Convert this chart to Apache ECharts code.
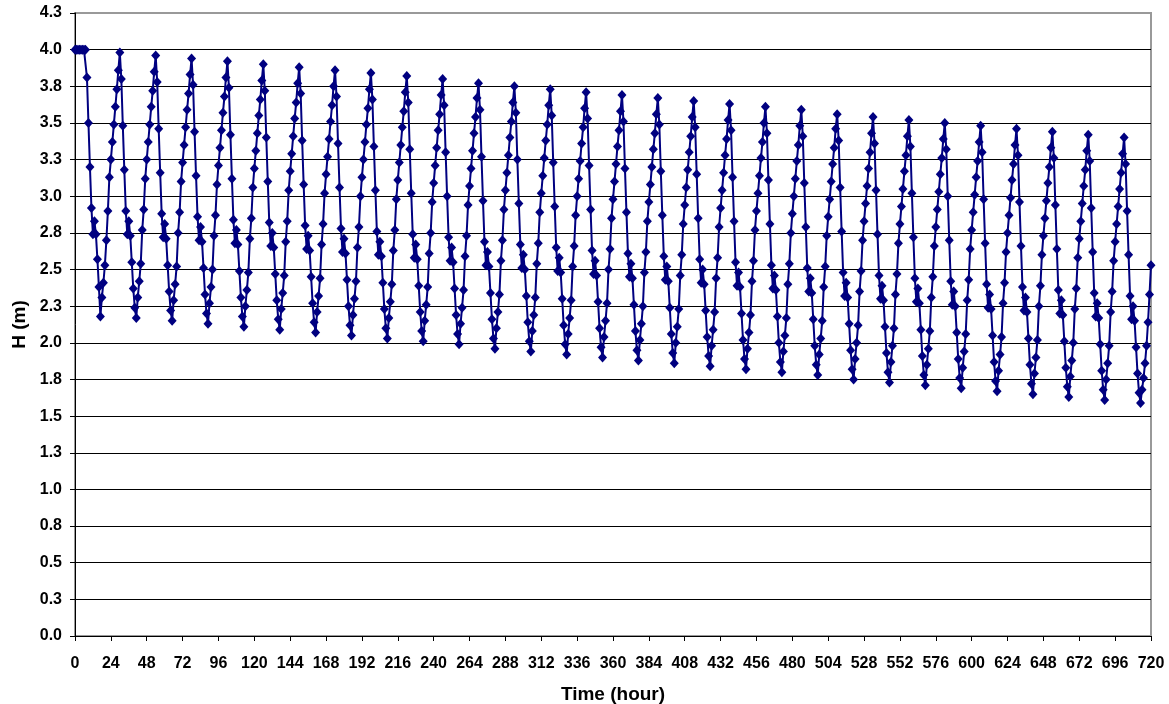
<!DOCTYPE html>
<html>
<head>
<meta charset="utf-8">
<script src="https://cdn.jsdelivr.net/npm/echarts@6/dist/echarts.min.js"></script>
<style>
  html, body { margin: 0; padding: 0; background: #fff; }
  #chart { width: 1169px; height: 704px; }
</style>
</head>
<body>
<div id="chart"></div>
<script>
// Water level H (m), one value per hour, t = 0 .. 720 h
const levelStart = [ // t = 0 .. 29
  4.00, 4.00, 4.00, 4.00, 4.00, 4.00, 4.00, 4.00, 3.81, 3.50, 3.20, 2.92, 2.74, 2.83, 2.74,
  2.57, 2.38, 2.18, 2.31, 2.41, 2.53, 2.70, 2.90, 3.13, 3.25, 3.37, 3.49, 3.61, 3.73, 3.86
];
const levelCycles = [ // each row: 24 hourly values starting at a peak (t = 30, 54, 78, ...)
  [3.98,3.80,3.48,3.18,2.90,2.74,2.83,2.73,2.55,2.37,2.24,2.17,2.31,2.42,2.54,2.77,2.91,3.12,3.25,3.37,3.49,3.61,3.72,3.85],
  [3.96,3.78,3.46,3.16,2.88,2.72,2.81,2.71,2.53,2.35,2.22,2.15,2.29,2.40,2.52,2.75,2.89,3.10,3.23,3.35,3.47,3.59,3.70,3.83],
  [3.94,3.76,3.44,3.14,2.86,2.70,2.79,2.69,2.51,2.33,2.20,2.13,2.27,2.38,2.50,2.73,2.87,3.08,3.21,3.33,3.45,3.57,3.68,3.81],
  [3.92,3.74,3.42,3.12,2.84,2.68,2.77,2.67,2.49,2.31,2.18,2.11,2.25,2.36,2.48,2.71,2.85,3.06,3.19,3.31,3.43,3.55,3.66,3.79],
  [3.90,3.72,3.40,3.10,2.82,2.66,2.75,2.65,2.47,2.29,2.16,2.09,2.23,2.34,2.46,2.69,2.83,3.04,3.17,3.29,3.41,3.53,3.64,3.77],
  [3.88,3.70,3.38,3.08,2.80,2.64,2.73,2.63,2.45,2.27,2.14,2.07,2.21,2.32,2.44,2.67,2.81,3.02,3.15,3.27,3.39,3.51,3.62,3.75],
  [3.86,3.68,3.36,3.06,2.78,2.62,2.71,2.61,2.43,2.25,2.12,2.05,2.19,2.30,2.42,2.65,2.79,3.00,3.13,3.25,3.37,3.49,3.60,3.73],
  [3.84,3.66,3.34,3.04,2.76,2.60,2.69,2.59,2.41,2.23,2.10,2.03,2.17,2.28,2.40,2.63,2.77,2.98,3.11,3.23,3.35,3.47,3.58,3.71],
  [3.82,3.64,3.32,3.02,2.74,2.58,2.67,2.57,2.39,2.21,2.08,2.01,2.15,2.26,2.38,2.61,2.75,2.96,3.09,3.21,3.33,3.45,3.56,3.69],
  [3.80,3.62,3.30,3.00,2.72,2.56,2.65,2.55,2.37,2.19,2.06,1.99,2.13,2.24,2.36,2.59,2.73,2.94,3.07,3.19,3.31,3.43,3.54,3.67],
  [3.77,3.59,3.27,2.97,2.69,2.53,2.62,2.52,2.34,2.16,2.03,1.96,2.10,2.21,2.33,2.56,2.70,2.91,3.04,3.16,3.28,3.40,3.51,3.64],
  [3.75,3.57,3.25,2.95,2.67,2.51,2.60,2.50,2.32,2.14,2.01,1.94,2.08,2.19,2.31,2.54,2.68,2.89,3.02,3.14,3.26,3.38,3.49,3.62],
  [3.73,3.55,3.23,2.93,2.65,2.49,2.58,2.48,2.30,2.12,1.99,1.92,2.06,2.17,2.29,2.52,2.66,2.87,3.00,3.12,3.24,3.36,3.47,3.60],
  [3.71,3.53,3.21,2.91,2.63,2.47,2.56,2.46,2.28,2.10,1.97,1.90,2.04,2.15,2.27,2.50,2.64,2.85,2.98,3.10,3.22,3.34,3.45,3.58],
  [3.69,3.51,3.19,2.89,2.61,2.45,2.54,2.44,2.26,2.08,1.95,1.88,2.02,2.13,2.25,2.48,2.62,2.83,2.96,3.08,3.20,3.32,3.43,3.56],
  [3.67,3.49,3.17,2.87,2.59,2.43,2.52,2.42,2.24,2.06,1.93,1.86,2.00,2.11,2.23,2.46,2.60,2.81,2.94,3.06,3.18,3.30,3.41,3.54],
  [3.65,3.47,3.15,2.85,2.57,2.41,2.50,2.40,2.22,2.04,1.91,1.84,1.98,2.09,2.21,2.44,2.58,2.79,2.92,3.04,3.16,3.28,3.39,3.52],
  [3.63,3.45,3.13,2.83,2.55,2.39,2.48,2.38,2.20,2.02,1.89,1.82,1.96,2.07,2.19,2.42,2.56,2.77,2.90,3.02,3.14,3.26,3.37,3.50],
  [3.61,3.43,3.11,2.81,2.53,2.37,2.46,2.36,2.18,2.00,1.87,1.80,1.94,2.05,2.17,2.40,2.54,2.75,2.88,3.00,3.12,3.24,3.35,3.48],
  [3.59,3.41,3.09,2.79,2.51,2.35,2.44,2.34,2.16,1.98,1.85,1.78,1.92,2.03,2.15,2.38,2.52,2.73,2.86,2.98,3.10,3.22,3.33,3.46],
  [3.56,3.38,3.06,2.76,2.48,2.32,2.41,2.31,2.13,1.95,1.82,1.75,1.89,2.00,2.12,2.35,2.49,2.70,2.83,2.95,3.07,3.19,3.30,3.43],
  [3.54,3.36,3.04,2.74,2.46,2.30,2.39,2.29,2.11,1.93,1.80,1.73,1.87,1.98,2.10,2.33,2.47,2.68,2.81,2.93,3.05,3.17,3.28,3.41],
  [3.52,3.34,3.02,2.72,2.44,2.28,2.37,2.27,2.09,1.91,1.78,1.71,1.85,1.96,2.08,2.31,2.45,2.66,2.79,2.91,3.03,3.15,3.26,3.39],
  [3.50,3.32,3.00,2.70,2.42,2.26,2.35,2.25,2.07,1.89,1.76,1.69,1.83,1.94,2.06,2.29,2.43,2.64,2.77,2.89,3.01,3.13,3.24,3.37],
  [3.48,3.30,2.98,2.68,2.40,2.24,2.33,2.23,2.05,1.87,1.74,1.67,1.81,1.92,2.04,2.27,2.41,2.62,2.75,2.87,2.99,3.11,3.22,3.35],
  [3.46,3.28,2.96,2.66,2.38,2.22,2.31,2.21,2.03,1.85,1.72,1.65,1.79,1.90,2.02,2.25,2.39,2.60,2.73,2.85,2.97,3.09,3.20,3.33],
  [3.44,3.26,2.94,2.64,2.36,2.20,2.29,2.19,2.01,1.83,1.70,1.63,1.77,1.88,2.00,2.23,2.37,2.58,2.71,2.83,2.95,3.07,3.18,3.31],
  [3.42,3.24,2.92,2.62,2.34,2.18,2.27,2.17,1.99,1.81,1.68,1.61,1.75,1.86,1.98,2.21,2.35,2.56,2.69,2.81,2.93,3.05,3.16,3.29]
];
const levelEnd = [ // t = 702 .. 720
  3.40, 3.22, 2.90, 2.60, 2.32, 2.16, 2.25, 2.15, 1.97, 1.79, 1.66, 1.59, 1.68, 1.76, 1.86, 1.98, 2.14, 2.33, 2.53
];
const yTickLabels = ['0.0','0.3','0.5','0.8','1.0','1.3','1.5','1.8','2.0','2.3','2.5','2.8','3.0','3.3','3.5','3.8','4.0','4.3'];
const xTitle = 'Time (hour)';
const yTitle = 'H (m)';

const level = levelStart.concat(...levelCycles, levelEnd);
const seriesData = level.map((v, hour) => [hour, v]);

const FONT = '"Liberation Sans", Arial, sans-serif';
const chart = echarts.init(document.getElementById('chart'), null, { renderer: 'canvas' });
chart.setOption({
  backgroundColor: '#ffffff',
  animation: false,
  grid: {
    left: 75, top: 13, width: 1076, height: 623,
    show: true, borderColor: '#999999', borderWidth: 2, backgroundColor: 'transparent',
    containLabel: false,
    outerBoundsMode: 'none'
  },
  xAxis: {
    type: 'value', min: 0, max: 720, interval: 24,
    name: xTitle, nameLocation: 'middle', nameGap: 49,
    nameTextStyle: { fontFamily: FONT, fontWeight: 'bold', fontSize: 19, color: '#000' },
    axisLine: { show: true, onZero: false, lineStyle: { color: '#000', width: 1 } },
    axisTick: { show: true, inside: false, length: 5, lineStyle: { color: '#000', width: 1 } },
    axisLabel: { margin: 20, fontFamily: FONT, fontWeight: 'bold', fontSize: 16, color: '#000' },
    splitLine: { show: false }
  },
  yAxis: {
    type: 'value', min: 0, max: 4.25, interval: 0.25,
    name: yTitle, nameLocation: 'middle', nameGap: 45, nameRotate: 90,
    nameTextStyle: { fontFamily: FONT, fontWeight: 'bold', fontSize: 19, color: '#000' },
    axisLine: { show: true, onZero: false, lineStyle: { color: '#000', width: 1 } },
    axisTick: { show: true, inside: false, length: 5, lineStyle: { color: '#000', width: 1 } },
    axisLabel: {
      margin: 13, fontFamily: FONT, fontWeight: 'bold', fontSize: 16, color: '#000',
      formatter: (v) => yTickLabels[Math.round(v / 0.25)]
    },
    splitLine: { show: true, showMaxLine: false, lineStyle: { color: '#000', width: 1 } }
  },
  series: [{
    type: 'line',
    data: seriesData,
    symbol: 'diamond',
    symbolSize: [9, 10],
    showAllSymbol: true,
    lineStyle: { color: '#000080', width: 2 },
    itemStyle: { color: '#000080' },
    emphasis: { disabled: true }
  }]
});
</script>
</body>
</html>
